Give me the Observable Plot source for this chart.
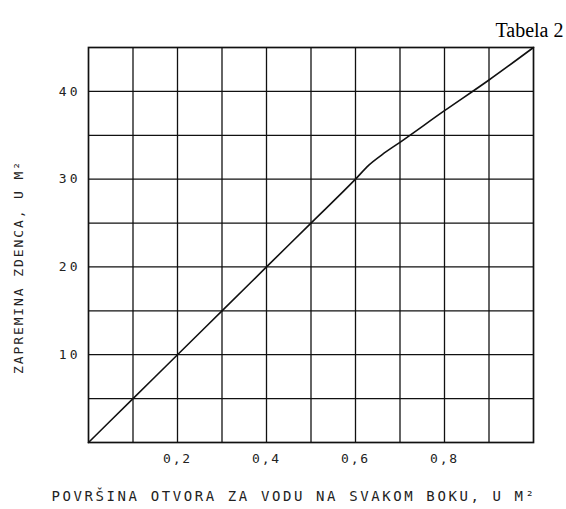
<!DOCTYPE html>
<html>
<head>
<meta charset="utf-8">
<script src="https://cdn.jsdelivr.net/npm/d3@7"></script>
<script src="https://cdn.jsdelivr.net/npm/@observablehq/plot@0.6"></script>
<style>
  body { margin: 0; background: #fff; }
  #chart svg { display: block; }
</style>
</head>
<body>
<div id="chart"></div>
<script>
// Data
const areaM2 = [0, 0.1, 0.2, 0.3, 0.4, 0.5, 0.6, 0.63, 0.66, 0.7, 0.8, 0.9, 1.0];
const volumeM3 = [0, 5, 10, 15, 20, 25, 30, 31.6, 32.8, 34.2, 37.8, 41.3, 45];
const xTickValues = [0.2, 0.4, 0.6, 0.8];
const xTickLabels = ["0,2", "0,4", "0,6", "0,8"];
const yTickValues = [10, 20, 30, 40];
const yTickLabels = ["10", "20", "30", "40"];
const xGridValues = [0.1, 0.2, 0.3, 0.4, 0.5, 0.6, 0.7, 0.8, 0.9];
const yGridValues = [5, 10, 15, 20, 25, 30, 35, 40];
const xTitle = "POVRŠINA OTVORA ZA VODU NA SVAKOM BOKU, U M²";
const yTitle = "ZAPREMINA ZDENCA, U M²";
const tableLabel = "Tabela 2";

const points = areaM2.map((x, i) => ({x, y: volumeM3[i]}));
const mono = "'DejaVu Sans Mono', 'Liberation Mono', monospace";

const chart = Plot.plot({
  width: 566,
  height: 509,
  marginLeft: 88,
  marginRight: 33,
  marginTop: 47,
  marginBottom: 67,
  style: {background: "#fff", color: "#222"},
  x: {domain: [0, 1], axis: null},
  y: {domain: [0, 45], axis: null},
  marks: [
    Plot.gridX(xGridValues, {stroke: "#111", strokeOpacity: 1, strokeWidth: 1.3}),
    Plot.gridY(yGridValues, {stroke: "#111", strokeOpacity: 1, strokeWidth: 1.3}),
    Plot.frame({stroke: "#111", strokeWidth: 1.7}),
    Plot.axisX(xTickValues, {
      tickSize: 0, tickPadding: 11, label: null,
      tickFormat: (d, i) => xTickLabels[i],
      fontFamily: mono, fontSize: 13, fill: "#222"
    }),
    Plot.axisY(yTickValues, {
      tickSize: 0, tickPadding: 8, label: null,
      tickFormat: (d, i) => yTickLabels[i],
      fontFamily: mono, fontSize: 13, fill: "#222"
    }),
    Plot.line(points, {x: "x", y: "y", stroke: "#111", strokeWidth: 1.6, curve: "monotone-x"}),
    Plot.text([xTitle], {
      frameAnchor: "bottom", textAnchor: "middle", dx: -17, dy: 58,
      fontFamily: mono, fontSize: 14, fill: "#222"
    }),
    Plot.text([yTitle], {
      frameAnchor: "left", textAnchor: "middle", rotate: -90, dx: -70, dy: 22,
      fontFamily: mono, fontSize: 13, fill: "#222"
    }),
    Plot.text([tableLabel], {
      frameAnchor: "top-right", textAnchor: "end", dx: 30, dy: -25,
      fontFamily: "'Liberation Serif', 'DejaVu Serif', serif", fontSize: 20, fill: "#000"
    })
  ]
});
// typewriter-like letter spacing
const spacing = new Map([[xTitle, 2.6], [yTitle, 1.9]]);
xTickLabels.forEach(t => spacing.set(t, 1.8));
yTickLabels.forEach(t => spacing.set(t, 3));
d3.select(chart).selectAll("text").each(function() {
  const s = spacing.get(this.textContent);
  if (s != null) d3.select(this).attr("letter-spacing", s + "px");
});
document.getElementById("chart").appendChild(chart);
</script>
</body>
</html>
